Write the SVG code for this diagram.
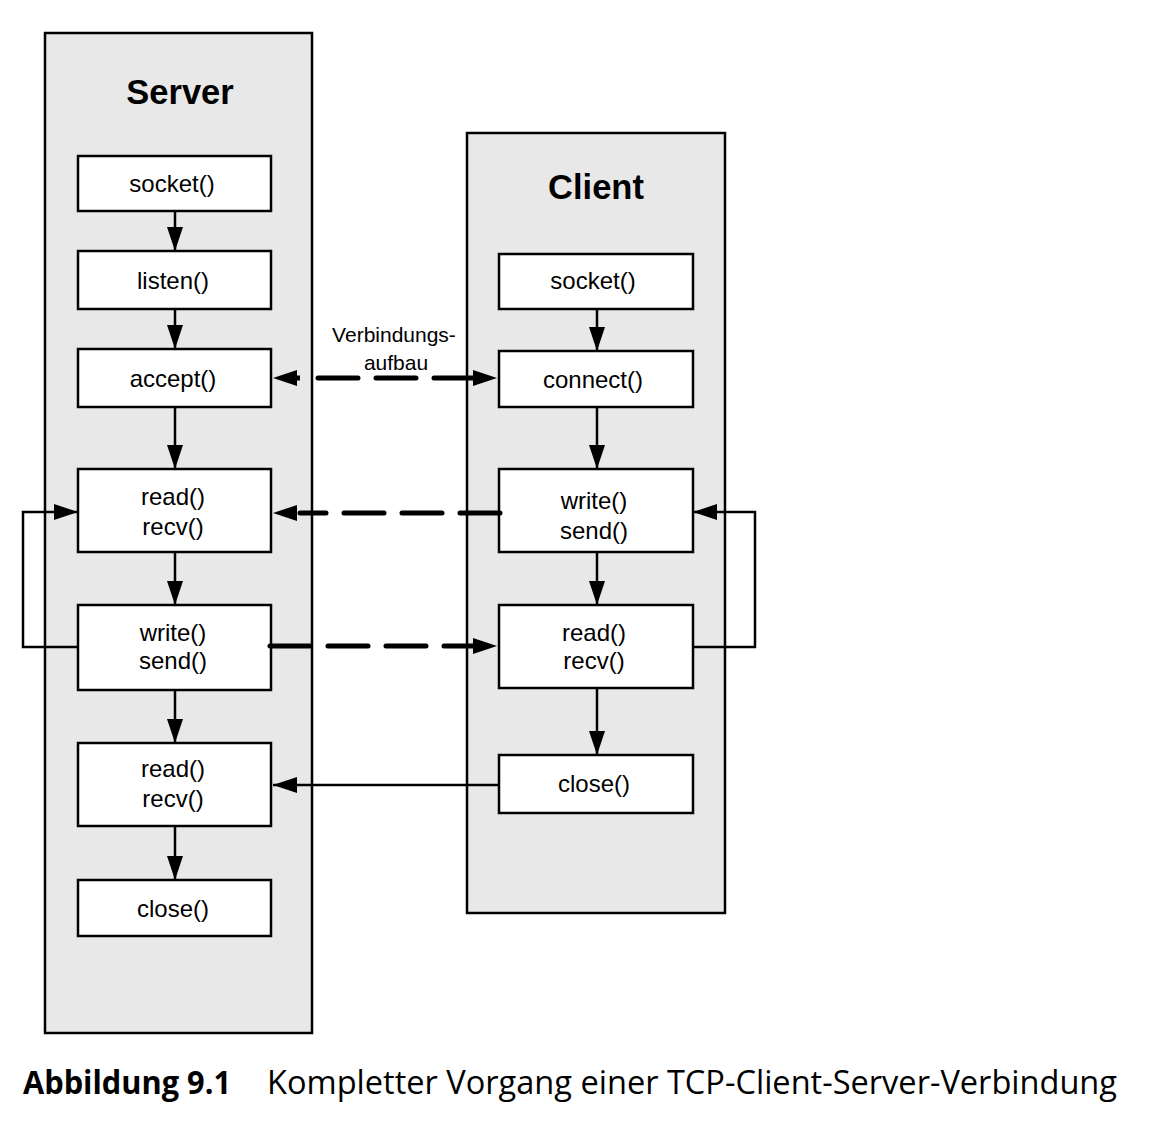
<svg xmlns="http://www.w3.org/2000/svg" width="1163" height="1136" viewBox="0 0 1163 1136">
<defs>
<style>
.panel{fill:#e8e8e8;stroke:#000;stroke-width:2.5}
.node{fill:#fff;stroke:#000;stroke-width:2.5}
.t{font-family:"Liberation Sans",Arial,sans-serif;font-size:24px;text-anchor:middle;fill:#000}
.title{font-family:"Liberation Sans",Arial,sans-serif;font-size:34.5px;font-weight:bold;text-anchor:middle;fill:#000}
.flow{stroke:#000;stroke-width:2.5;fill:none}
.dash{stroke:#000;stroke-width:5;fill:none;stroke-dasharray:40 18;stroke-linecap:round}
.lbl{font-family:"Liberation Sans",Arial,sans-serif;font-size:21px;text-anchor:middle;fill:#000}
.cap{font-family:"Open Sans","Noto Sans",sans-serif;font-size:32px;fill:#000}
</style>
<marker id="ah" viewBox="0 0 24 16" refX="24" refY="8" markerWidth="24" markerHeight="16" markerUnits="userSpaceOnUse" orient="auto">
<path d="M0,0 L24,8 L0,16 Z" fill="#000"/>
</marker>
</defs>
<g id="server-panel">
<rect class="panel" x="45" y="33" width="267" height="1000"/>
<text class="title" x="180" y="104">Server</text>
</g>
<g id="client-panel">
<rect class="panel" x="467" y="133" width="258" height="780"/>
<text class="title" x="596" y="199">Client</text>
</g>
<g id="s-socket"><rect class="node" x="78" y="156" width="193" height="55"/><text class="t" x="172" y="192">socket()</text></g>
<g id="s-listen"><rect class="node" x="78" y="251" width="193" height="58"/><text class="t" x="173" y="289">listen()</text></g>
<g id="s-accept"><rect class="node" x="78" y="349" width="193" height="58"/><text class="t" x="173" y="387">accept()</text></g>
<g id="s-read1"><rect class="node" x="78" y="469" width="193" height="83"/><text class="t" x="173" y="505">read()</text><text class="t" x="173" y="535">recv()</text></g>
<g id="s-write"><rect class="node" x="78" y="605" width="193" height="85"/><text class="t" x="173" y="641">write()</text><text class="t" x="173" y="669">send()</text></g>
<g id="s-read2"><rect class="node" x="78" y="743" width="193" height="83"/><text class="t" x="173" y="777">read()</text><text class="t" x="173" y="807">recv()</text></g>
<g id="s-close"><rect class="node" x="78" y="880" width="193" height="56"/><text class="t" x="173" y="917">close()</text></g>
<g id="c-socket"><rect class="node" x="499" y="254" width="194" height="55"/><text class="t" x="593" y="289">socket()</text></g>
<g id="c-connect"><rect class="node" x="499" y="351" width="194" height="56"/><text class="t" x="593" y="388">connect()</text></g>
<g id="c-write"><rect class="node" x="499" y="469" width="194" height="83"/><text class="t" x="594" y="509">write()</text><text class="t" x="594" y="539">send()</text></g>
<g id="c-read"><rect class="node" x="499" y="605" width="194" height="83"/><text class="t" x="594" y="641">read()</text><text class="t" x="594" y="669">recv()</text></g>
<g id="c-close"><rect class="node" x="499" y="755" width="194" height="58"/><text class="t" x="594" y="792">close()</text></g>
<g id="connectors">
<line class="flow" x1="175" y1="211" x2="175" y2="251" marker-end="url(#ah)"/>
<line class="flow" x1="175" y1="309" x2="175" y2="349" marker-end="url(#ah)"/>
<line class="flow" x1="175" y1="407" x2="175" y2="469" marker-end="url(#ah)"/>
<line class="flow" x1="175" y1="552" x2="175" y2="605" marker-end="url(#ah)"/>
<line class="flow" x1="175" y1="690" x2="175" y2="743" marker-end="url(#ah)"/>
<line class="flow" x1="175" y1="826" x2="175" y2="880" marker-end="url(#ah)"/>
<line class="flow" x1="597" y1="309" x2="597" y2="351" marker-end="url(#ah)"/>
<line class="flow" x1="597" y1="407" x2="597" y2="469" marker-end="url(#ah)"/>
<line class="flow" x1="597" y1="552" x2="597" y2="605" marker-end="url(#ah)"/>
<line class="flow" x1="597" y1="688" x2="597" y2="755" marker-end="url(#ah)"/>
<polyline class="flow" points="78,647 23,647 23,512 78,512" marker-end="url(#ah)"/>
<polyline class="flow" points="693,647 755,647 755,512 693,512" marker-end="url(#ah)"/>
<line class="flow" x1="499" y1="785" x2="273" y2="785" marker-end="url(#ah)"/>
<line class="dash" x1="318" y1="378" x2="480" y2="378"/>
<line class="flow" x1="297" y1="378" x2="300" y2="378" style="stroke-width:5"/>
<polygon points="273,378 297,370 297,386" fill="#000"/>
<polygon points="497,378 473,370 473,386" fill="#000"/>
<line class="dash" x1="500" y1="513" x2="300" y2="513"/>
<polygon points="273,513 297,505 297,521" fill="#000"/>
<line class="dash" x1="270" y1="646" x2="480" y2="646"/>
<polygon points="497,646 473,638 473,654" fill="#000"/>
</g>
<g id="label">
<text class="lbl" x="394" y="342">Verbindungs-</text>
<text class="lbl" x="396" y="370">aufbau</text>
</g>
<g id="caption">
<text class="cap" x="23" y="1094" font-weight="bold" textLength="208" lengthAdjust="spacingAndGlyphs">Abbildung 9.1</text>
<text class="cap" x="267" y="1094" textLength="850" lengthAdjust="spacingAndGlyphs">Kompletter Vorgang einer TCP-Client-Server-Verbindung</text>
</g>
</svg>
